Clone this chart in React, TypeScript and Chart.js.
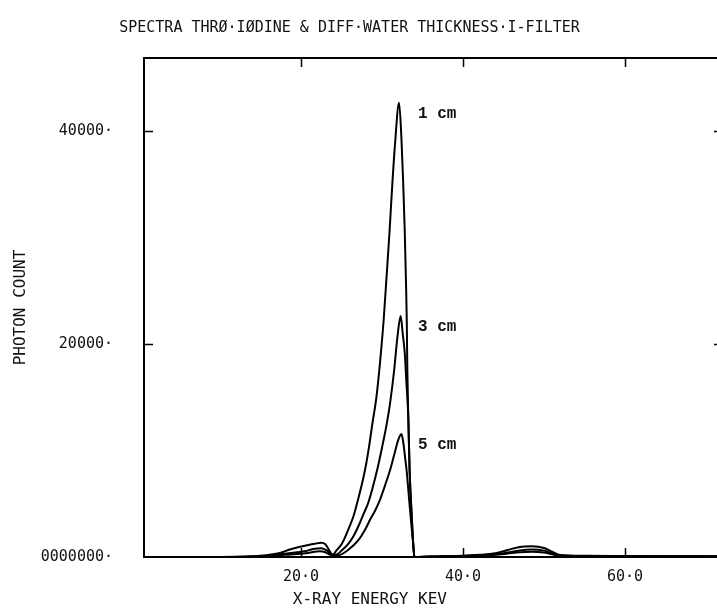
import React, { useEffect, useRef } from 'react';
import { Chart, registerables } from 'chart.js';

Chart.register(...registerables);

const TITLE = 'SPECTRA THRØ·IØDINE & DIFF·WATER THICKNESS·I-FILTER';
const X_TITLE = 'X-RAY ENERGY KEV';
const Y_TITLE = 'PHOTON COUNT';

const X_TICKS = [20, 40, 60];
const X_TICK_LABELS = ['20·0', '40·0', '60·0'];
const Y_TICKS = [0, 20000, 40000];
const Y_TICK_LABELS = ['0000000·', '20000·', '40000·'];

const SERIES_LABELS = ['1 cm', '3 cm', '5 cm'];

const KEV_1CM = [0.6, 10, 14, 16, 17.5, 18.6, 19.5, 20.7, 21.7, 22.5, 23.0, 23.5, 23.9, 24.4, 25.0, 25.4, 26.0, 26.5, 26.9, 27.4, 27.9, 28.4, 28.8, 29.3, 29.75, 30.2, 30.5, 30.9, 31.2, 31.6, 32.1, 32.4, 32.6, 32.8, 32.95, 33.05, 33.12, 33.25, 33.4, 33.7, 33.85, 34.0, 36, 40, 42, 44, 45.5, 47, 48.5, 50, 51, 52, 55, 60, 65, 72.6];
const COUNT_1CM = [0, 0, 60, 200, 400, 700, 900, 1100, 1250, 1340, 1200, 600, 200, 650, 1200, 1800, 2900, 3900, 5000, 6500, 8200, 10400, 12500, 15000, 18300, 22300, 25700, 30300, 34200, 38800, 42700, 39200, 35400, 30700, 26000, 22300, 17600, 12900, 8200, 3300, 1200, 0, 50, 120, 200, 350, 650, 950, 1000, 850, 500, 200, 120, 100, 80, 60];

const KEV_3CM = [0.6, 10, 14, 16, 18, 19.5, 20.5, 21.5, 22.5, 23.2, 23.7, 24.3, 25.0, 25.8, 26.5, 27.2, 27.8, 28.3, 29.4, 30.0, 30.6, 31.0, 31.5, 31.9, 32.3, 32.55, 32.8, 33.0, 33.25, 33.4, 33.7, 33.85, 34.0, 36, 40, 42, 44, 45.5, 47, 48.5, 50, 51, 52, 55, 60, 65, 72.6];
const COUNT_3CM = [0, 0, 40, 120, 300, 450, 550, 750, 820, 600, 250, 200, 600, 1200, 2000, 3100, 4200, 5100, 8200, 10300, 12600, 14500, 17600, 20700, 22650, 21000, 19200, 16500, 12900, 8200, 3300, 1200, 0, 40, 100, 160, 250, 420, 620, 700, 600, 350, 150, 100, 90, 70, 50];

const KEV_5CM = [0.6, 10, 14, 16, 18, 20, 21, 22.3, 23.0, 23.6, 24.5, 25.8, 27.1, 28.0, 28.5, 29.1, 29.6, 30.4, 31.0, 31.6, 32.0, 32.4, 32.65, 32.85, 33.05, 33.3, 33.55, 33.85, 34.0, 36, 40, 42, 44, 45.5, 47, 48.5, 50, 51, 52, 55, 60, 65, 72.6];
const COUNT_5CM = [0, 0, 30, 80, 200, 300, 400, 550, 450, 200, 150, 660, 1600, 2700, 3480, 4300, 5100, 6800, 8200, 9900, 11000, 11560, 10600, 9300, 8000, 5800, 3600, 1200, 0, 30, 80, 130, 200, 320, 450, 500, 420, 250, 120, 80, 70, 60, 40];

const SERIES_KEV = [KEV_1CM, KEV_3CM, KEV_5CM];
const SERIES_COUNT = [COUNT_1CM, COUNT_3CM, COUNT_5CM];

const X_MIN = 0.6;
const X_MAX = 72.6;
const Y_MIN = 0;
const Y_MAX = 46900;

const LABEL_KEV = 34.44;
const X_TITLE_KEV = 28.5;

const MONO = '"DejaVu Sans Mono", monospace';

const framePlugin = {
  id: 'frame',
  afterDraw(chart: any) {
    const { ctx, chartArea: a, scales } = chart;
    const x = scales.x;
    const y = scales.y;
    ctx.save();
    ctx.strokeStyle = '#000';
    ctx.lineWidth = 2;
    ctx.strokeRect(a.left, a.top, a.right - a.left, a.bottom - a.top);
    ctx.beginPath();
    X_TICKS.forEach((v) => {
      const px = Math.round(x.getPixelForValue(v)) + 0.5;
      ctx.moveTo(px, a.top);
      ctx.lineTo(px, a.top + 9);
      ctx.moveTo(px, a.bottom);
      ctx.lineTo(px, a.bottom - 9);
    });
    Y_TICKS.slice(1).forEach((v) => {
      const py = Math.round(y.getPixelForValue(v)) + 0.5;
      ctx.moveTo(a.left, py);
      ctx.lineTo(a.left + 9, py);
      ctx.moveTo(a.right, py);
      ctx.lineTo(a.right - 13, py);
    });
    ctx.lineWidth = 1.5;
    ctx.stroke();

    ctx.fillStyle = '#111';
    ctx.font = 'bold 16px "Liberation Mono", monospace';
    ctx.textAlign = 'left';
    ctx.textBaseline = 'middle';
    chart.data.datasets.forEach((ds: any, i: number) => {
      let peak = 0;
      ds.data.forEach((p: any) => { if (p.y > peak) peak = p.y; });
      ctx.fillText(SERIES_LABELS[i], x.getPixelForValue(LABEL_KEV), y.getPixelForValue(peak) + 11);
    });

    ctx.font = '16px ' + MONO;
    ctx.textAlign = 'center';
    ctx.fillText(X_TITLE, x.getPixelForValue(X_TITLE_KEV), 600);
    ctx.restore();
  },
};

export default function App() {
  const ref = useRef<HTMLCanvasElement | null>(null);

  useEffect(() => {
    if (!ref.current) return;
    const datasets = SERIES_KEV.map((kev, i) => ({
      label: SERIES_LABELS[i],
      data: kev.map((e, j) => ({ x: e, y: SERIES_COUNT[i][j] })),
      borderColor: '#000',
      borderWidth: 2,
      pointRadius: 0,
      fill: false,
      cubicInterpolationMode: 'monotone' as const,
    }));
    const chart = new Chart(ref.current, {
      type: 'line',
      data: { datasets },
      plugins: [framePlugin],
      options: {
        animation: false,
        responsive: false,
        devicePixelRatio: 1,
        layout: { padding: { left: -28, right: 0, top: 0, bottom: 0 } },
        plugins: {
          legend: { display: false },
          tooltip: { enabled: false },
          title: {
            display: true,
            text: TITLE,
            color: '#111',
            font: { family: MONO, size: 15, weight: 'normal' },
            padding: { top: 19, bottom: 21 },
          },
        },
        scales: {
          x: {
            type: 'linear',
            min: X_MIN,
            max: X_MAX,
            afterBuildTicks: (scale: any) => {
              scale.ticks = X_TICKS.map((v) => ({ value: v }));
            },
            afterFit: (scale: any) => {
              scale.height = 56;
            },
            grid: { display: false, drawTicks: false },
            border: { display: false },
            ticks: {
              padding: 11,
              color: '#111',
              font: { family: MONO, size: 15 },
              maxRotation: 0,
              callback: (v: any) => {
                const i = X_TICKS.indexOf(Number(v));
                return i >= 0 ? X_TICK_LABELS[i] : '';
              },
            },
          },
          y: {
            type: 'linear',
            min: Y_MIN,
            max: Y_MAX,
            afterBuildTicks: (scale: any) => {
              scale.ticks = Y_TICKS.map((v) => ({ value: v }));
            },
            afterFit: (scale: any) => {
              scale.width = 172;
            },
            grid: { display: false, drawTicks: false },
            border: { display: false },
            ticks: {
              padding: 31,
              color: '#111',
              font: { family: MONO, size: 15 },
              callback: (v: any) => {
                const i = Y_TICKS.indexOf(Number(v));
                return i >= 0 ? Y_TICK_LABELS[i] : '';
              },
            },
            title: {
              display: true,
              text: Y_TITLE,
              color: '#111',
              font: { family: MONO, size: 16, weight: 'normal' },
              padding: { top: 39, bottom: 0 },
            },
          },
        },
      },
    });
    return () => chart.destroy();
  }, []);

  return (
    <div style={{ position: 'fixed', left: 0, top: 0, width: 717, height: 613, overflow: 'hidden', background: '#fff' }}>
      <canvas ref={ref} width={727} height={613} style={{ width: 727, height: 613, display: 'block' }} />
    </div>
  );
}
